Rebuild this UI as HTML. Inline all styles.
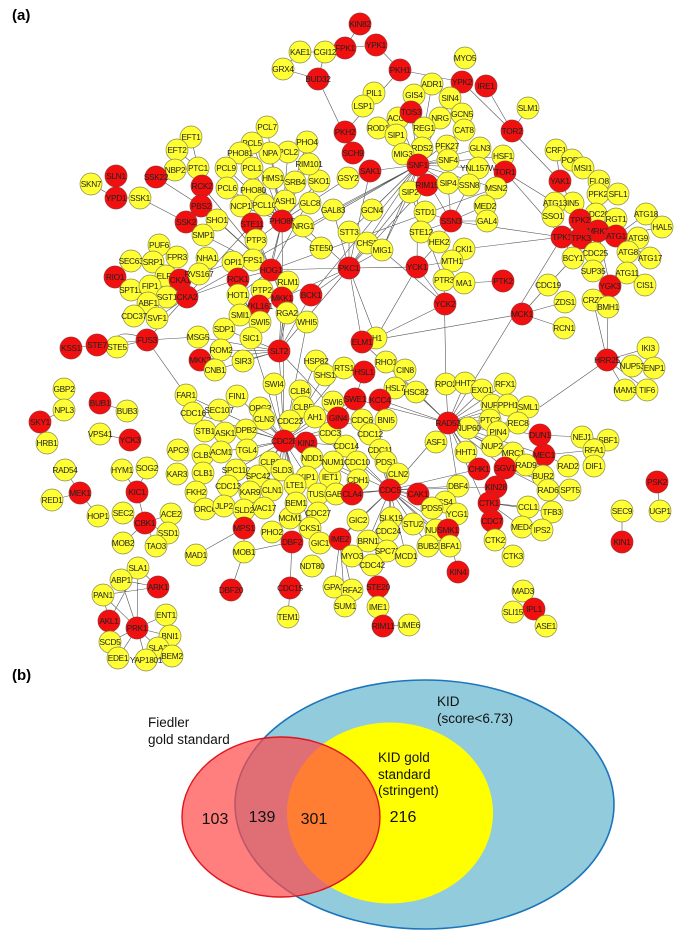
<!DOCTYPE html>
<html><head><meta charset="utf-8"><style>
html,body{margin:0;padding:0;background:#fff;width:685px;height:937px;overflow:hidden}
svg{display:block}
.y{fill:#ffff33;stroke:#8a8a50;stroke-width:.7}
.r{fill:#f20f0f;stroke:#a03030;stroke-width:.7}
text.n{font-family:"Liberation Sans",sans-serif;font-size:8.3px;fill:#222;text-anchor:middle;dominant-baseline:central;letter-spacing:-.3px}
.lab{font-family:"Liberation Sans",sans-serif;font-size:13.5px;fill:#111}
.num{font-family:"Liberation Sans",sans-serif;font-size:16px;fill:#111;text-anchor:middle}
</style></head><body>
<svg width="685" height="937" viewBox="0 0 685 937" xmlns="http://www.w3.org/2000/svg">
<text x="12" y="20" font-family="Liberation Sans,sans-serif" font-weight="bold" font-size="15">(a)</text>
<text x="12" y="680" font-family="Liberation Sans,sans-serif" font-weight="bold" font-size="15">(b)</text>
<g stroke="#555" stroke-width=".6" fill="none">
<path d="
M284 441L264 419M284 441L270 462M284 441L272 490M284 441L274 384M284 441L279 351M284 441L303 407M284 441L290 421M284 441L282 470M284 441L306 443M284 441L251 338M284 441L307 322M284 441L186 395M284 441L300 391M284 441L316 361M284 441L330 405M284 441L362 420M284 441L330 433M284 441L355 399M284 441L221 452M284 441L247 450M284 441L258 476M284 441L236 470M284 441L193 413M284 441L246 430M284 441L307 477M284 441L312 458M284 441L290 518M284 441L310 528M284 441L358 480M284 441L346 446M284 441L260 408M284 441L296 503M284 441L295 485M284 441L344 368M284 441L325 375M284 441L237 396M284 441L390 490M284 441L203 455M284 441L250 492M284 441L318 494M284 441L282 221
M279 351L349 268M279 351L311 295M279 351L282 298M279 351L288 282M279 351L198 337M279 351L224 329M279 351L221 350M279 351L200 360M279 351L287 313M279 351L243 361M279 351L215 370M279 351L330 405
M349 268L311 295M349 268L349 232M349 268L333 210M349 268L418 165M349 268L417 267M349 268L382 250M349 268L271 270M349 268L427 185M349 268L370 171M349 268L410 192M349 268L362 342M349 268L376 338M349 268L282 298M349 268L303 226
M418 165L370 171M418 165L411 112M418 165L333 210M418 165L396 135M418 165L410 192M418 165L448 183M418 165L448 160M418 165L382 250M418 165L372 210M418 165L398 118M418 165L424 128M418 165L403 154M418 165L422 148M418 165L464 130M418 165L503 156M418 165L480 148M418 165L432 84M418 165L440 118M418 165L496 188M418 165L417 267M418 165L349 232M418 165L300 230M418 165L478 168M418 165L451 221
M282 221L307 142M282 221L252 168M282 221L288 152M282 221L252 143M282 221L227 188M282 221L267 127M282 221L226 168M282 221L264 205M282 221L253 190M282 221L240 153M282 221L348 178M282 221L310 203M282 221L319 181M282 221L309 164M282 221L295 182M282 221L273 178M282 221L241 206M282 221L285 201M282 221L303 226M282 221L256 240M282 221L271 270M282 221L251 338M282 221L270 153M282 221L321 248
M271 270L201 206M271 270L319 181M271 270L238 295M271 270L262 290M271 270L256 240M271 270L203 235M271 270L238 279M271 270L202 186M271 270L288 282M271 270L253 260M271 270L282 298M271 270L252 224M271 270L217 220M271 270L496 188
M448 423L540 435M448 423L479 469M448 423L544 455M448 423L436 442M448 423L446 384M448 423L465 383M448 423L482 390M448 423L492 405M448 423L508 405M448 423L490 420M448 423L498 432M448 423L468 428M448 423L466 452M448 423L390 490M448 423L528 407M448 423L518 423M448 423L505 384M448 423L458 486M448 423L355 399M448 423L380 400M448 423L492 521M448 423L492 446M448 423L513 453M448 423L526 465M448 423L386 362M448 423L362 342M448 423L505 468
M390 490L352 494M390 490L418 494M390 490L346 446M390 490L391 518M390 490L413 524M390 490L386 462M390 490L398 474M390 490L450 546M390 490L428 546M390 490L388 531M390 490L368 541M390 490L387 551M390 490L406 556M390 490L458 486M390 490L436 530M390 490L358 520M390 490L496 487M390 490L340 539M390 490L380 450M390 490L370 434M390 490L357 462M390 490L432 508M390 490L445 502M390 490L479 469M390 490L336 494M390 490L448 530
M318 79L353 153M345 132L353 153M400 70L462 82M400 70L376 45M400 70L345 132M376 45L345 48M360 24L345 48M345 48L325 52M325 52L300 52M300 52L283 69M318 79L283 69M318 79L325 52M486 86L512 131M462 82L512 131M512 131L560 181M512 131L528 108M505 172L562 237M505 172L555 203M562 237L464 249M562 237L451 221M562 237L580 220M562 237L581 238M562 237L573 258M560 181L555 203M560 181L556 150M560 181L580 220M522 314L362 342M522 314L548 285M522 314L564 328M522 314L565 302M548 285L573 258M607 360L540 407M607 360L648 348M607 360L632 366M607 360L654 368M607 360L625 390M607 360L647 390M607 360L593 300M607 360L608 307M445 304L376 338M445 304L417 267M417 267L452 261M417 267L439 242M417 267L376 338M444 280L446 384M464 283L503 281M451 221L421 232M451 221L425 212M451 221L469 185M451 221L487 221M451 221L485 206M451 221L448 183M451 221L439 242M452 261L464 249M452 261L444 280M598 231L616 236M598 231L596 214M598 231L616 219M616 236L638 238M616 236L628 252M616 236L646 214M616 236L650 258M616 236L662 227M616 236L627 273M580 220L598 194M580 220L573 203M581 238L595 253M581 238L593 271M610 286L593 271M610 286L608 307M598 231L610 286
M147 340L97 345M97 345L71 348M97 345L117 347M147 340L117 347M147 340L198 337M147 340L186 395M147 340L252 224M147 340L97 345M117 347Q110 325 150 340
M40 422L64 410M64 410L64 389M40 422L47 443M100 403L127 411M100 434L130 440M80 493L65 470M80 493L52 500M80 493L98 516M137 492L122 470M137 492L147 468M137 492L145 523M145 523L123 513M145 523L171 514M145 523L168 533M145 523L156 546M145 523L123 543
M158 587L138 568M158 587L121 580M158 587L103 595M137 628L121 580M137 628L103 595M137 628L138 568M137 628L166 615M137 628L170 636M137 628L110 642M137 628L158 648M137 628L118 658M137 628L146 660M109 621L103 595M109 621L138 568M170 636L172 656M138 568L121 580
M534 609L523 591M534 609L513 612M534 609L546 626M622 542L622 511M657 482L660 511
M116 176L116 198M116 198L140 198M91 184L116 198M140 198L186 222M156 177L201 206M186 222L201 206M202 186L201 206M201 206L217 220M175 170L198 168M198 168L191 137M177 150L198 168M191 137L177 150
M180 280L187 297M180 280L166 276M187 297L167 297M187 297L157 318M180 280L207 258M187 297L238 279M166 276L155 262M166 276L150 286M115 277L131 290M150 286L167 297M148 303L134 316M187 297L253 260M180 280L199 274M199 274L233 262
M244 528L196 555M244 528L244 552M292 542L244 552M244 552L231 590M292 542L290 588M290 588L288 617M292 542L310 528M292 542L272 532
M362 342L376 338M364 372L386 362M364 372L355 399M380 400L395 388M380 400L416 392M380 400L386 420M355 399L338 418M338 418L362 420M540 435L582 437M540 435L544 455M544 455L568 466M544 455L594 450M582 437L608 440M594 450L594 466M505 468L543 476M505 468L548 490M505 468L570 490M496 487L489 503M489 503L528 507M489 503L552 512M489 503L522 527M489 503L495 540M495 540L513 556M448 530L458 572M448 530L450 546M340 539L334 587M340 539L352 590M340 539L345 606M340 539L352 556M372 565L378 587M378 587L378 607M383 626L409 625M340 539L358 520
M311 295L418 165M253 260L418 165M311 295L349 268M448 423L562 237M445 304L382 250M382 250L410 192M382 250L418 165M410 192L444 280
"/>
</g>
<g>
<circle class="r" cx="360" cy="24" r="11"/><text class="n" x="360" y="24">KIN82</text>
<circle class="r" cx="376" cy="45" r="11"/><text class="n" x="376" y="45">YPK1</text>
<circle class="r" cx="345" cy="48" r="11"/><text class="n" x="345" y="48">FPK1</text>
<circle class="y" cx="325" cy="52" r="11"/><text class="n" x="325" y="52">CGI12</text>
<circle class="y" cx="300" cy="52" r="11"/><text class="n" x="300" y="52">KAE1</text>
<circle class="y" cx="283" cy="69" r="11"/><text class="n" x="283" y="69">GRX4</text>
<circle class="r" cx="318" cy="79" r="11"/><text class="n" x="318" y="79">BUD32</text>
<circle class="r" cx="400" cy="70" r="11"/><text class="n" x="400" y="70">PKH1</text>
<circle class="y" cx="374" cy="93" r="11"/><text class="n" x="374" y="93">PIL1</text>
<circle class="y" cx="363" cy="106" r="11"/><text class="n" x="363" y="106">LSP1</text>
<circle class="y" cx="378" cy="128" r="11"/><text class="n" x="378" y="128">ROD1</text>
<circle class="r" cx="345" cy="132" r="11"/><text class="n" x="345" y="132">PKH2</text>
<circle class="r" cx="353" cy="153" r="11"/><text class="n" x="353" y="153">SCH9</text>
<circle class="r" cx="370" cy="171" r="11"/><text class="n" x="370" y="171">SAK1</text>
<circle class="y" cx="348" cy="178" r="11"/><text class="n" x="348" y="178">GSY2</text>
<circle class="y" cx="333" cy="210" r="11"/><text class="n" x="333" y="210">GAL83</text>
<circle class="y" cx="372" cy="210" r="11"/><text class="n" x="372" y="210">GCN4</text>
<circle class="y" cx="349" cy="232" r="11"/><text class="n" x="349" y="232">STT3</text>
<circle class="y" cx="367" cy="243" r="11"/><text class="n" x="367" y="243">CHS3</text>
<circle class="r" cx="349" cy="268" r="11"/><text class="n" x="349" y="268">PKC1</text>
<circle class="y" cx="321" cy="248" r="11"/><text class="n" x="321" y="248">STE50</text>
<circle class="y" cx="310" cy="203" r="11"/><text class="n" x="310" y="203">GLC8</text>
<circle class="y" cx="319" cy="181" r="11"/><text class="n" x="319" y="181">SKO1</text>
<circle class="y" cx="309" cy="164" r="11"/><text class="n" x="309" y="164">RIM101</text>
<circle class="y" cx="307" cy="142" r="11"/><text class="n" x="307" y="142">PHO4</text>
<circle class="y" cx="295" cy="182" r="11"/><text class="n" x="295" y="182">SRB4</text>
<circle class="y" cx="273" cy="178" r="11"/><text class="n" x="273" y="178">HMS1</text>
<circle class="y" cx="288" cy="152" r="11"/><text class="n" x="288" y="152">PCL2</text>
<circle class="y" cx="270" cy="153" r="11"/><text class="n" x="270" y="153">NPA</text>
<circle class="y" cx="267" cy="127" r="11"/><text class="n" x="267" y="127">PCL7</text>
<circle class="y" cx="252" cy="143" r="11"/><text class="n" x="252" y="143">PCL5</text>
<circle class="y" cx="240" cy="153" r="11"/><text class="n" x="240" y="153">PHO81</text>
<circle class="y" cx="226" cy="168" r="11"/><text class="n" x="226" y="168">PCL9</text>
<circle class="y" cx="252" cy="168" r="11"/><text class="n" x="252" y="168">PCL1</text>
<circle class="y" cx="227" cy="188" r="11"/><text class="n" x="227" y="188">PCL6</text>
<circle class="y" cx="253" cy="190" r="11"/><text class="n" x="253" y="190">PHO80</text>
<circle class="y" cx="241" cy="206" r="11"/><text class="n" x="241" y="206">NCP1</text>
<circle class="y" cx="264" cy="205" r="11"/><text class="n" x="264" y="205">PCL10</text>
<circle class="y" cx="285" cy="201" r="11"/><text class="n" x="285" y="201">ASH1</text>
<circle class="r" cx="282" cy="221" r="11"/><text class="n" x="282" y="221">PHO85</text>
<circle class="y" cx="303" cy="226" r="11"/><text class="n" x="303" y="226">NRG1</text>
<circle class="r" cx="252" cy="224" r="11"/><text class="n" x="252" y="224">STE11</text>
<circle class="y" cx="256" cy="240" r="11"/><text class="n" x="256" y="240">PTP3</text>
<circle class="y" cx="253" cy="260" r="11"/><text class="n" x="253" y="260">FPS1</text>
<circle class="y" cx="233" cy="262" r="11"/><text class="n" x="233" y="262">OPI1</text>
<circle class="r" cx="271" cy="270" r="11"/><text class="n" x="271" y="270">HOG1</text>
<circle class="r" cx="238" cy="279" r="11"/><text class="n" x="238" y="279">RCK1</text>
<circle class="y" cx="262" cy="290" r="11"/><text class="n" x="262" y="290">PTP2</text>
<circle class="y" cx="288" cy="282" r="11"/><text class="n" x="288" y="282">RLM1</text>
<circle class="r" cx="311" cy="295" r="11"/><text class="n" x="311" y="295">BCK1</text>
<circle class="r" cx="282" cy="298" r="11"/><text class="n" x="282" y="298">MKK1</text>
<circle class="y" cx="238" cy="295" r="11"/><text class="n" x="238" y="295">HOT1</text>
<circle class="r" cx="259" cy="306" r="11"/><text class="n" x="259" y="306">YKL161</text>
<circle class="y" cx="240" cy="315" r="11"/><text class="n" x="240" y="315">SMI1</text>
<circle class="y" cx="260" cy="322" r="11"/><text class="n" x="260" y="322">SWI5</text>
<circle class="y" cx="287" cy="313" r="11"/><text class="n" x="287" y="313">RGA2</text>
<circle class="y" cx="307" cy="322" r="11"/><text class="n" x="307" y="322">WHI5</text>
<circle class="y" cx="224" cy="329" r="11"/><text class="n" x="224" y="329">SDP1</text>
<circle class="y" cx="191" cy="137" r="11"/><text class="n" x="191" y="137">EFT1</text>
<circle class="y" cx="177" cy="150" r="11"/><text class="n" x="177" y="150">EFT2</text>
<circle class="y" cx="198" cy="168" r="11"/><text class="n" x="198" y="168">PTC1</text>
<circle class="y" cx="175" cy="170" r="11"/><text class="n" x="175" y="170">NBP2</text>
<circle class="r" cx="156" cy="177" r="11"/><text class="n" x="156" y="177">SSK22</text>
<circle class="r" cx="202" cy="186" r="11"/><text class="n" x="202" y="186">RCK2</text>
<circle class="r" cx="201" cy="206" r="11"/><text class="n" x="201" y="206">PBS2</text>
<circle class="r" cx="186" cy="222" r="11"/><text class="n" x="186" y="222">SSK2</text>
<circle class="y" cx="217" cy="220" r="11"/><text class="n" x="217" y="220">SHO1</text>
<circle class="y" cx="203" cy="235" r="11"/><text class="n" x="203" y="235">SMP1</text>
<circle class="y" cx="91" cy="184" r="11"/><text class="n" x="91" y="184">SKN7</text>
<circle class="r" cx="116" cy="176" r="11"/><text class="n" x="116" y="176">SLN1</text>
<circle class="r" cx="116" cy="198" r="11"/><text class="n" x="116" y="198">YPD1</text>
<circle class="y" cx="140" cy="198" r="11"/><text class="n" x="140" y="198">SSK1</text>
<circle class="y" cx="207" cy="258" r="11"/><text class="n" x="207" y="258">NHA1</text>
<circle class="y" cx="159" cy="245" r="11"/><text class="n" x="159" y="245">PUF6</text>
<circle class="y" cx="177" cy="257" r="11"/><text class="n" x="177" y="257">FPR3</text>
<circle class="y" cx="131" cy="261" r="11"/><text class="n" x="131" y="261">SEC63</text>
<circle class="y" cx="153" cy="262" r="11"/><text class="n" x="153" y="262">SRP1</text>
<circle class="y" cx="166" cy="276" r="11"/><text class="n" x="166" y="276">ELF1</text>
<circle class="r" cx="180" cy="280" r="11"/><text class="n" x="180" y="280">CKA1</text>
<circle class="y" cx="199" cy="274" r="11"/><text class="n" x="199" y="274">RVS167</text>
<circle class="r" cx="115" cy="277" r="11"/><text class="n" x="115" y="277">RIO1</text>
<circle class="y" cx="131" cy="290" r="11"/><text class="n" x="131" y="290">SPT15</text>
<circle class="y" cx="150" cy="286" r="11"/><text class="n" x="150" y="286">FIP1</text>
<circle class="y" cx="167" cy="297" r="11"/><text class="n" x="167" y="297">SGT1</text>
<circle class="r" cx="187" cy="297" r="11"/><text class="n" x="187" y="297">CKA2</text>
<circle class="y" cx="148" cy="303" r="11"/><text class="n" x="148" y="303">ABF1</text>
<circle class="y" cx="134" cy="316" r="11"/><text class="n" x="134" y="316">CDC37</text>
<circle class="y" cx="157" cy="318" r="11"/><text class="n" x="157" y="318">SVF1</text>
<circle class="r" cx="71" cy="348" r="11"/><text class="n" x="71" y="348">KSS1</text>
<circle class="y" cx="117" cy="347" r="11"/><text class="n" x="117" y="347">STE5</text>
<circle class="r" cx="97" cy="345" r="11"/><text class="n" x="97" y="345">STE7</text>
<circle class="r" cx="147" cy="340" r="11"/><text class="n" x="147" y="340">FUS3</text>
<circle class="y" cx="198" cy="337" r="11"/><text class="n" x="198" y="337">MSG5</text>
<circle class="r" cx="200" cy="360" r="11"/><text class="n" x="200" y="360">MKK2</text>
<circle class="y" cx="221" cy="350" r="11"/><text class="n" x="221" y="350">ROM2</text>
<circle class="y" cx="251" cy="338" r="11"/><text class="n" x="251" y="338">SIC1</text>
<circle class="y" cx="243" cy="361" r="11"/><text class="n" x="243" y="361">SIR3</text>
<circle class="y" cx="215" cy="370" r="11"/><text class="n" x="215" y="370">CNB1</text>
<circle class="r" cx="279" cy="351" r="11"/><text class="n" x="279" y="351">SLT2</text>
<circle class="y" cx="316" cy="361" r="11"/><text class="n" x="316" y="361">HSP82</text>
<circle class="y" cx="325" cy="375" r="11"/><text class="n" x="325" y="375">SHS1</text>
<circle class="y" cx="274" cy="384" r="11"/><text class="n" x="274" y="384">SWI4</text>
<circle class="y" cx="186" cy="395" r="11"/><text class="n" x="186" y="395">FAR1</text>
<circle class="y" cx="237" cy="396" r="11"/><text class="n" x="237" y="396">FIN1</text>
<circle class="y" cx="300" cy="391" r="11"/><text class="n" x="300" y="391">CLB4</text>
<circle class="y" cx="260" cy="408" r="11"/><text class="n" x="260" y="408">ORC2</text>
<circle class="y" cx="303" cy="407" r="11"/><text class="n" x="303" y="407">CLB5</text>
<circle class="y" cx="193" cy="413" r="11"/><text class="n" x="193" y="413">CDC16</text>
<circle class="y" cx="219" cy="410" r="11"/><text class="n" x="219" y="410">SEC107</text>
<circle class="y" cx="333" cy="402" r="11"/><text class="n" x="333" y="402">SWI6</text>
<circle class="y" cx="315" cy="417" r="11"/><text class="n" x="315" y="417">AH1</text>
<circle class="y" cx="290" cy="421" r="11"/><text class="n" x="290" y="421">CDC23</text>
<circle class="y" cx="264" cy="419" r="11"/><text class="n" x="264" y="419">CLN3</text>
<circle class="y" cx="205" cy="431" r="11"/><text class="n" x="205" y="431">STB1</text>
<circle class="y" cx="225" cy="433" r="11"/><text class="n" x="225" y="433">ASK1</text>
<circle class="y" cx="246" cy="430" r="11"/><text class="n" x="246" y="430">DPB2</text>
<circle class="y" cx="330" cy="433" r="11"/><text class="n" x="330" y="433">CDC3</text>
<circle class="r" cx="284" cy="441" r="11"/><text class="n" x="284" y="441">CDC28</text>
<circle class="r" cx="306" cy="443" r="11"/><text class="n" x="306" y="443">KIN2</text>
<circle class="y" cx="178" cy="450" r="11"/><text class="n" x="178" y="450">APC9</text>
<circle class="y" cx="203" cy="455" r="11"/><text class="n" x="203" y="455">CLB3</text>
<circle class="y" cx="221" cy="452" r="11"/><text class="n" x="221" y="452">ACM1</text>
<circle class="y" cx="247" cy="450" r="11"/><text class="n" x="247" y="450">TGL4</text>
<circle class="y" cx="312" cy="458" r="11"/><text class="n" x="312" y="458">NDD1</text>
<circle class="y" cx="270" cy="462" r="11"/><text class="n" x="270" y="462">CLB2</text>
<circle class="y" cx="236" cy="470" r="11"/><text class="n" x="236" y="470">SPC110</text>
<circle class="y" cx="282" cy="470" r="11"/><text class="n" x="282" y="470">SLD3</text>
<circle class="y" cx="258" cy="476" r="11"/><text class="n" x="258" y="476">SPC42</text>
<circle class="y" cx="177" cy="474" r="11"/><text class="n" x="177" y="474">KAR3</text>
<circle class="y" cx="203" cy="473" r="11"/><text class="n" x="203" y="473">CLB1</text>
<circle class="y" cx="307" cy="477" r="11"/><text class="n" x="307" y="477">KIP1</text>
<circle class="y" cx="330" cy="477" r="11"/><text class="n" x="330" y="477">IET1</text>
<circle class="y" cx="196" cy="492" r="11"/><text class="n" x="196" y="492">FKH2</text>
<circle class="y" cx="228" cy="486" r="11"/><text class="n" x="228" y="486">CDC13</text>
<circle class="y" cx="250" cy="492" r="11"/><text class="n" x="250" y="492">KAR9</text>
<circle class="y" cx="272" cy="490" r="11"/><text class="n" x="272" y="490">CLN1</text>
<circle class="y" cx="295" cy="485" r="11"/><text class="n" x="295" y="485">LTE1</text>
<circle class="y" cx="318" cy="494" r="11"/><text class="n" x="318" y="494">TUS1</text>
<circle class="y" cx="205" cy="509" r="11"/><text class="n" x="205" y="509">ORC6</text>
<circle class="y" cx="224" cy="506" r="11"/><text class="n" x="224" y="506">JLP2</text>
<circle class="y" cx="244" cy="510" r="11"/><text class="n" x="244" y="510">SLD2</text>
<circle class="y" cx="264" cy="508" r="11"/><text class="n" x="264" y="508">VAC17</text>
<circle class="y" cx="290" cy="518" r="11"/><text class="n" x="290" y="518">MCM1</text>
<circle class="y" cx="296" cy="503" r="11"/><text class="n" x="296" y="503">BEM1</text>
<circle class="y" cx="318" cy="513" r="11"/><text class="n" x="318" y="513">CDC27</text>
<circle class="y" cx="310" cy="528" r="11"/><text class="n" x="310" y="528">CKS1</text>
<circle class="r" cx="244" cy="528" r="11"/><text class="n" x="244" y="528">MPS1</text>
<circle class="y" cx="272" cy="532" r="11"/><text class="n" x="272" y="532">PHO2</text>
<circle class="r" cx="292" cy="542" r="11"/><text class="n" x="292" y="542">DBF2</text>
<circle class="y" cx="320" cy="543" r="11"/><text class="n" x="320" y="543">GIC1</text>
<circle class="y" cx="244" cy="552" r="11"/><text class="n" x="244" y="552">MOB1</text>
<circle class="y" cx="196" cy="555" r="11"/><text class="n" x="196" y="555">MAD1</text>
<circle class="y" cx="312" cy="566" r="11"/><text class="n" x="312" y="566">NDT80</text>
<circle class="r" cx="231" cy="590" r="11"/><text class="n" x="231" y="590">DBF20</text>
<circle class="r" cx="290" cy="588" r="11"/><text class="n" x="290" y="588">CDC15</text>
<circle class="y" cx="288" cy="617" r="11"/><text class="n" x="288" y="617">TEM1</text>
<circle class="y" cx="64" cy="389" r="11"/><text class="n" x="64" y="389">GBP2</text>
<circle class="y" cx="64" cy="410" r="11"/><text class="n" x="64" y="410">NPL3</text>
<circle class="r" cx="40" cy="422" r="11"/><text class="n" x="40" y="422">SKY1</text>
<circle class="y" cx="47" cy="443" r="11"/><text class="n" x="47" y="443">HRB1</text>
<circle class="r" cx="100" cy="403" r="11"/><text class="n" x="100" y="403">BUB1</text>
<circle class="y" cx="127" cy="411" r="11"/><text class="n" x="127" y="411">BUB3</text>
<circle class="y" cx="100" cy="434" r="11"/><text class="n" x="100" y="434">VPS41</text>
<circle class="r" cx="130" cy="440" r="11"/><text class="n" x="130" y="440">YCK3</text>
<circle class="y" cx="65" cy="470" r="11"/><text class="n" x="65" y="470">RAD54</text>
<circle class="r" cx="80" cy="493" r="11"/><text class="n" x="80" y="493">MEK1</text>
<circle class="y" cx="52" cy="500" r="11"/><text class="n" x="52" y="500">RED1</text>
<circle class="y" cx="98" cy="516" r="11"/><text class="n" x="98" y="516">HOP1</text>
<circle class="y" cx="122" cy="470" r="11"/><text class="n" x="122" y="470">HYM1</text>
<circle class="y" cx="147" cy="468" r="11"/><text class="n" x="147" y="468">SOG2</text>
<circle class="r" cx="137" cy="492" r="11"/><text class="n" x="137" y="492">KIC1</text>
<circle class="y" cx="123" cy="513" r="11"/><text class="n" x="123" y="513">SEC2</text>
<circle class="r" cx="145" cy="523" r="11"/><text class="n" x="145" y="523">CBK1</text>
<circle class="y" cx="171" cy="514" r="11"/><text class="n" x="171" y="514">ACE2</text>
<circle class="y" cx="168" cy="533" r="11"/><text class="n" x="168" y="533">SSD1</text>
<circle class="y" cx="123" cy="543" r="11"/><text class="n" x="123" y="543">MOB2</text>
<circle class="y" cx="156" cy="546" r="11"/><text class="n" x="156" y="546">TAO3</text>
<circle class="y" cx="138" cy="568" r="11"/><text class="n" x="138" y="568">SLA1</text>
<circle class="y" cx="121" cy="580" r="11"/><text class="n" x="121" y="580">ABP1</text>
<circle class="r" cx="158" cy="587" r="11"/><text class="n" x="158" y="587">ARK1</text>
<circle class="y" cx="103" cy="595" r="11"/><text class="n" x="103" y="595">PAN1</text>
<circle class="r" cx="109" cy="621" r="11"/><text class="n" x="109" y="621">AKL1</text>
<circle class="r" cx="137" cy="628" r="11"/><text class="n" x="137" y="628">PRK1</text>
<circle class="y" cx="166" cy="615" r="11"/><text class="n" x="166" y="615">ENT1</text>
<circle class="y" cx="170" cy="636" r="11"/><text class="n" x="170" y="636">BNI1</text>
<circle class="y" cx="110" cy="642" r="11"/><text class="n" x="110" y="642">SCD5</text>
<circle class="y" cx="158" cy="648" r="11"/><text class="n" x="158" y="648">SLA2</text>
<circle class="y" cx="118" cy="658" r="11"/><text class="n" x="118" y="658">EDE1</text>
<circle class="y" cx="146" cy="660" r="11"/><text class="n" x="146" y="660">YAP1801</text>
<circle class="y" cx="172" cy="656" r="11"/><text class="n" x="172" y="656">BEM2</text>
<circle class="y" cx="465" cy="58" r="11"/><text class="n" x="465" y="58">MYO5</text>
<circle class="y" cx="432" cy="84" r="11"/><text class="n" x="432" y="84">ADR1</text>
<circle class="r" cx="462" cy="82" r="11"/><text class="n" x="462" y="82">YPK2</text>
<circle class="r" cx="486" cy="86" r="11"/><text class="n" x="486" y="86">IRE1</text>
<circle class="y" cx="414" cy="95" r="11"/><text class="n" x="414" y="95">GIS4</text>
<circle class="y" cx="450" cy="98" r="11"/><text class="n" x="450" y="98">SIN4</text>
<circle class="y" cx="398" cy="118" r="11"/><text class="n" x="398" y="118">ACC1</text>
<circle class="r" cx="411" cy="112" r="11"/><text class="n" x="411" y="112">TOS3</text>
<circle class="y" cx="440" cy="118" r="11"/><text class="n" x="440" y="118">NRG</text>
<circle class="y" cx="462" cy="114" r="11"/><text class="n" x="462" y="114">GCN5</text>
<circle class="y" cx="424" cy="128" r="11"/><text class="n" x="424" y="128">REG1</text>
<circle class="y" cx="464" cy="130" r="11"/><text class="n" x="464" y="130">CAT8</text>
<circle class="y" cx="396" cy="135" r="11"/><text class="n" x="396" y="135">SIP1</text>
<circle class="y" cx="528" cy="108" r="11"/><text class="n" x="528" y="108">SLM1</text>
<circle class="r" cx="512" cy="131" r="11"/><text class="n" x="512" y="131">TOR2</text>
<circle class="y" cx="422" cy="148" r="11"/><text class="n" x="422" y="148">RDS2</text>
<circle class="y" cx="447" cy="146" r="11"/><text class="n" x="447" y="146">PFK27</text>
<circle class="y" cx="480" cy="148" r="11"/><text class="n" x="480" y="148">GLN3</text>
<circle class="y" cx="403" cy="154" r="11"/><text class="n" x="403" y="154">MIG3</text>
<circle class="y" cx="448" cy="160" r="11"/><text class="n" x="448" y="160">SNF4</text>
<circle class="r" cx="418" cy="165" r="11"/><text class="n" x="418" y="165">SNF1</text>
<circle class="y" cx="503" cy="156" r="11"/><text class="n" x="503" y="156">HSF1</text>
<circle class="y" cx="478" cy="168" r="11"/><text class="n" x="478" y="168">YNL157W</text>
<circle class="r" cx="505" cy="172" r="11"/><text class="n" x="505" y="172">TOR1</text>
<circle class="y" cx="410" cy="192" r="11"/><text class="n" x="410" y="192">SIP2</text>
<circle class="r" cx="427" cy="185" r="11"/><text class="n" x="427" y="185">RIM15</text>
<circle class="y" cx="448" cy="183" r="11"/><text class="n" x="448" y="183">SIP4</text>
<circle class="y" cx="469" cy="185" r="11"/><text class="n" x="469" y="185">SSN8</text>
<circle class="y" cx="496" cy="188" r="11"/><text class="n" x="496" y="188">MSN2</text>
<circle class="y" cx="485" cy="206" r="11"/><text class="n" x="485" y="206">MED2</text>
<circle class="y" cx="425" cy="212" r="11"/><text class="n" x="425" y="212">STD1</text>
<circle class="r" cx="451" cy="221" r="11"/><text class="n" x="451" y="221">SSN3</text>
<circle class="y" cx="487" cy="221" r="11"/><text class="n" x="487" y="221">GAL4</text>
<circle class="y" cx="421" cy="232" r="11"/><text class="n" x="421" y="232">STE12</text>
<circle class="y" cx="439" cy="242" r="11"/><text class="n" x="439" y="242">HEK2</text>
<circle class="y" cx="464" cy="249" r="11"/><text class="n" x="464" y="249">CKI1</text>
<circle class="y" cx="452" cy="261" r="11"/><text class="n" x="452" y="261">MTH1</text>
<circle class="y" cx="382" cy="250" r="11"/><text class="n" x="382" y="250">MIG1</text>
<circle class="r" cx="417" cy="267" r="11"/><text class="n" x="417" y="267">YCK1</text>
<circle class="y" cx="444" cy="280" r="11"/><text class="n" x="444" y="280">PTR3</text>
<circle class="y" cx="464" cy="283" r="11"/><text class="n" x="464" y="283">MA1</text>
<circle class="r" cx="503" cy="281" r="11"/><text class="n" x="503" y="281">PTK2</text>
<circle class="r" cx="445" cy="304" r="11"/><text class="n" x="445" y="304">YCK2</text>
<circle class="y" cx="556" cy="150" r="11"/><text class="n" x="556" y="150">CRF1</text>
<circle class="y" cx="572" cy="160" r="11"/><text class="n" x="572" y="160">POP2</text>
<circle class="y" cx="583" cy="168" r="11"/><text class="n" x="583" y="168">MSI1</text>
<circle class="y" cx="599" cy="181" r="11"/><text class="n" x="599" y="181">FLO8</text>
<circle class="r" cx="560" cy="181" r="11"/><text class="n" x="560" y="181">YAK1</text>
<circle class="y" cx="598" cy="194" r="11"/><text class="n" x="598" y="194">PFK2</text>
<circle class="y" cx="618" cy="194" r="11"/><text class="n" x="618" y="194">SFL1</text>
<circle class="y" cx="573" cy="203" r="11"/><text class="n" x="573" y="203">IN5</text>
<circle class="y" cx="555" cy="203" r="11"/><text class="n" x="555" y="203">ATG13</text>
<circle class="y" cx="553" cy="216" r="11"/><text class="n" x="553" y="216">SSO1</text>
<circle class="y" cx="646" cy="214" r="11"/><text class="n" x="646" y="214">ATG18</text>
<circle class="y" cx="662" cy="227" r="11"/><text class="n" x="662" y="227">HAL5</text>
<circle class="y" cx="596" cy="214" r="11"/><text class="n" x="596" y="214">CDC20</text>
<circle class="r" cx="580" cy="220" r="11"/><text class="n" x="580" y="220">TPK2</text>
<circle class="y" cx="616" cy="219" r="11"/><text class="n" x="616" y="219">RGT1</text>
<circle class="r" cx="598" cy="231" r="11"/><text class="n" x="598" y="231">MRK1</text>
<circle class="y" cx="638" cy="238" r="11"/><text class="n" x="638" y="238">ATG9</text>
<circle class="r" cx="616" cy="236" r="11"/><text class="n" x="616" y="236">ATG1</text>
<circle class="r" cx="562" cy="237" r="11"/><text class="n" x="562" y="237">TPK1</text>
<circle class="r" cx="581" cy="238" r="11"/><text class="n" x="581" y="238">TPK3</text>
<circle class="y" cx="595" cy="253" r="11"/><text class="n" x="595" y="253">CDC25</text>
<circle class="y" cx="628" cy="252" r="11"/><text class="n" x="628" y="252">ATG8</text>
<circle class="y" cx="650" cy="258" r="11"/><text class="n" x="650" y="258">ATG17</text>
<circle class="y" cx="573" cy="258" r="11"/><text class="n" x="573" y="258">BCY1</text>
<circle class="y" cx="593" cy="271" r="11"/><text class="n" x="593" y="271">SUP35</text>
<circle class="y" cx="627" cy="273" r="11"/><text class="n" x="627" y="273">ATG11</text>
<circle class="y" cx="645" cy="285" r="11"/><text class="n" x="645" y="285">CIS1</text>
<circle class="r" cx="610" cy="286" r="11"/><text class="n" x="610" y="286">YGK3</text>
<circle class="y" cx="548" cy="285" r="11"/><text class="n" x="548" y="285">CDC19</text>
<circle class="y" cx="565" cy="302" r="11"/><text class="n" x="565" y="302">ZDS1</text>
<circle class="y" cx="593" cy="300" r="11"/><text class="n" x="593" y="300">CRZ1</text>
<circle class="y" cx="608" cy="307" r="11"/><text class="n" x="608" y="307">BMH1</text>
<circle class="r" cx="522" cy="314" r="11"/><text class="n" x="522" y="314">MCK1</text>
<circle class="y" cx="564" cy="328" r="11"/><text class="n" x="564" y="328">RCN1</text>
<circle class="y" cx="376" cy="338" r="11"/><text class="n" x="376" y="338">IH1</text>
<circle class="r" cx="362" cy="342" r="11"/><text class="n" x="362" y="342">ELM1</text>
<circle class="y" cx="344" cy="368" r="11"/><text class="n" x="344" y="368">RTS1</text>
<circle class="y" cx="386" cy="362" r="11"/><text class="n" x="386" y="362">RHO1</text>
<circle class="r" cx="364" cy="372" r="11"/><text class="n" x="364" y="372">HSL1</text>
<circle class="y" cx="405" cy="370" r="11"/><text class="n" x="405" y="370">CIN8</text>
<circle class="y" cx="395" cy="388" r="11"/><text class="n" x="395" y="388">HSL7</text>
<circle class="y" cx="416" cy="392" r="11"/><text class="n" x="416" y="392">HSC82</text>
<circle class="y" cx="446" cy="384" r="11"/><text class="n" x="446" y="384">RPO2</text>
<circle class="y" cx="465" cy="383" r="11"/><text class="n" x="465" y="383">HHT2</text>
<circle class="y" cx="482" cy="390" r="11"/><text class="n" x="482" y="390">EXO1</text>
<circle class="y" cx="505" cy="384" r="11"/><text class="n" x="505" y="384">RFX1</text>
<circle class="y" cx="492" cy="405" r="11"/><text class="n" x="492" y="405">NUP1</text>
<circle class="y" cx="508" cy="405" r="11"/><text class="n" x="508" y="405">PPH1</text>
<circle class="y" cx="528" cy="407" r="11"/><text class="n" x="528" y="407">SML1</text>
<circle class="r" cx="355" cy="399" r="11"/><text class="n" x="355" y="399">SWE1</text>
<circle class="r" cx="380" cy="400" r="11"/><text class="n" x="380" y="400">KCC4</text>
<circle class="r" cx="338" cy="418" r="11"/><text class="n" x="338" y="418">GIN4</text>
<circle class="y" cx="362" cy="420" r="11"/><text class="n" x="362" y="420">CDC6</text>
<circle class="y" cx="386" cy="420" r="11"/><text class="n" x="386" y="420">BNI5</text>
<circle class="y" cx="490" cy="420" r="11"/><text class="n" x="490" y="420">PTC2</text>
<circle class="y" cx="468" cy="428" r="11"/><text class="n" x="468" y="428">NUP60</text>
<circle class="r" cx="448" cy="423" r="11"/><text class="n" x="448" y="423">RAD53</text>
<circle class="y" cx="518" cy="423" r="11"/><text class="n" x="518" y="423">REC8</text>
<circle class="y" cx="498" cy="432" r="11"/><text class="n" x="498" y="432">PIN4</text>
<circle class="y" cx="370" cy="434" r="11"/><text class="n" x="370" y="434">CDC12</text>
<circle class="y" cx="582" cy="437" r="11"/><text class="n" x="582" y="437">NEJ1</text>
<circle class="y" cx="608" cy="440" r="11"/><text class="n" x="608" y="440">SBF1</text>
<circle class="y" cx="594" cy="450" r="11"/><text class="n" x="594" y="450">RFA1</text>
<circle class="r" cx="540" cy="435" r="11"/><text class="n" x="540" y="435">DUN1</text>
<circle class="y" cx="346" cy="446" r="11"/><text class="n" x="346" y="446">CDC14</text>
<circle class="y" cx="380" cy="450" r="11"/><text class="n" x="380" y="450">CDC11</text>
<circle class="y" cx="436" cy="442" r="11"/><text class="n" x="436" y="442">ASF1</text>
<circle class="y" cx="492" cy="446" r="11"/><text class="n" x="492" y="446">NUP2</text>
<circle class="y" cx="466" cy="452" r="11"/><text class="n" x="466" y="452">HHT1</text>
<circle class="y" cx="513" cy="453" r="11"/><text class="n" x="513" y="453">MRC1</text>
<circle class="r" cx="544" cy="455" r="11"/><text class="n" x="544" y="455">MEC1</text>
<circle class="y" cx="333" cy="462" r="11"/><text class="n" x="333" y="462">NUM1</text>
<circle class="y" cx="357" cy="462" r="11"/><text class="n" x="357" y="462">CDC10</text>
<circle class="y" cx="386" cy="462" r="11"/><text class="n" x="386" y="462">PDS1</text>
<circle class="y" cx="398" cy="474" r="11"/><text class="n" x="398" y="474">CLN2</text>
<circle class="y" cx="526" cy="465" r="11"/><text class="n" x="526" y="465">RAD9</text>
<circle class="y" cx="568" cy="466" r="11"/><text class="n" x="568" y="466">RAD2</text>
<circle class="y" cx="594" cy="466" r="11"/><text class="n" x="594" y="466">DIF1</text>
<circle class="r" cx="479" cy="469" r="11"/><text class="n" x="479" y="469">CHK1</text>
<circle class="r" cx="505" cy="468" r="11"/><text class="n" x="505" y="468">SGV1</text>
<circle class="y" cx="543" cy="476" r="11"/><text class="n" x="543" y="476">BUR2</text>
<circle class="y" cx="358" cy="480" r="11"/><text class="n" x="358" y="480">CDH1</text>
<circle class="y" cx="336" cy="494" r="11"/><text class="n" x="336" y="494">GAB1</text>
<circle class="r" cx="352" cy="494" r="11"/><text class="n" x="352" y="494">CLA4</text>
<circle class="r" cx="390" cy="490" r="11"/><text class="n" x="390" y="490">CDC5</text>
<circle class="r" cx="418" cy="494" r="11"/><text class="n" x="418" y="494">CAK1</text>
<circle class="y" cx="458" cy="486" r="11"/><text class="n" x="458" y="486">DBF4</text>
<circle class="r" cx="496" cy="487" r="11"/><text class="n" x="496" y="487">KIN28</text>
<circle class="y" cx="548" cy="490" r="11"/><text class="n" x="548" y="490">RAD6</text>
<circle class="y" cx="570" cy="490" r="11"/><text class="n" x="570" y="490">SPT5</text>
<circle class="y" cx="445" cy="502" r="11"/><text class="n" x="445" y="502">CS4</text>
<circle class="r" cx="489" cy="503" r="11"/><text class="n" x="489" y="503">CTK1</text>
<circle class="y" cx="432" cy="508" r="11"/><text class="n" x="432" y="508">PDS5</text>
<circle class="y" cx="457" cy="514" r="11"/><text class="n" x="457" y="514">YCG1</text>
<circle class="y" cx="528" cy="507" r="11"/><text class="n" x="528" y="507">CCL1</text>
<circle class="y" cx="552" cy="512" r="11"/><text class="n" x="552" y="512">TFB3</text>
<circle class="r" cx="492" cy="521" r="11"/><text class="n" x="492" y="521">CDC7</text>
<circle class="y" cx="358" cy="520" r="11"/><text class="n" x="358" y="520">GIC2</text>
<circle class="y" cx="391" cy="518" r="11"/><text class="n" x="391" y="518">SLK19</text>
<circle class="y" cx="413" cy="524" r="11"/><text class="n" x="413" y="524">STU2</text>
<circle class="y" cx="436" cy="530" r="11"/><text class="n" x="436" y="530">NUD1</text>
<circle class="r" cx="448" cy="530" r="11"/><text class="n" x="448" y="530">SMK1</text>
<circle class="y" cx="522" cy="527" r="11"/><text class="n" x="522" y="527">MED4</text>
<circle class="y" cx="542" cy="530" r="11"/><text class="n" x="542" y="530">IPS2</text>
<circle class="y" cx="388" cy="531" r="11"/><text class="n" x="388" y="531">CDC24</text>
<circle class="r" cx="340" cy="539" r="11"/><text class="n" x="340" y="539">IME2</text>
<circle class="y" cx="368" cy="541" r="11"/><text class="n" x="368" y="541">BRN1</text>
<circle class="y" cx="428" cy="546" r="11"/><text class="n" x="428" y="546">BUB2</text>
<circle class="y" cx="450" cy="546" r="11"/><text class="n" x="450" y="546">BFA1</text>
<circle class="y" cx="495" cy="540" r="11"/><text class="n" x="495" y="540">CTK2</text>
<circle class="y" cx="387" cy="551" r="11"/><text class="n" x="387" y="551">SPC72</text>
<circle class="y" cx="352" cy="556" r="11"/><text class="n" x="352" y="556">MYO3</text>
<circle class="y" cx="406" cy="556" r="11"/><text class="n" x="406" y="556">MCD1</text>
<circle class="y" cx="372" cy="565" r="11"/><text class="n" x="372" y="565">CDC42</text>
<circle class="y" cx="513" cy="556" r="11"/><text class="n" x="513" y="556">CTK3</text>
<circle class="r" cx="458" cy="572" r="11"/><text class="n" x="458" y="572">KIN4</text>
<circle class="y" cx="334" cy="587" r="11"/><text class="n" x="334" y="587">GPA2</text>
<circle class="y" cx="352" cy="590" r="11"/><text class="n" x="352" y="590">RFA2</text>
<circle class="r" cx="378" cy="587" r="11"/><text class="n" x="378" y="587">STE20</text>
<circle class="y" cx="345" cy="606" r="11"/><text class="n" x="345" y="606">SUM1</text>
<circle class="y" cx="378" cy="607" r="11"/><text class="n" x="378" y="607">IME1</text>
<circle class="r" cx="383" cy="626" r="11"/><text class="n" x="383" y="626">RIM11</text>
<circle class="y" cx="409" cy="625" r="11"/><text class="n" x="409" y="625">UME6</text>
<circle class="y" cx="523" cy="591" r="11"/><text class="n" x="523" y="591">MAD3</text>
<circle class="y" cx="513" cy="612" r="11"/><text class="n" x="513" y="612">SLI15</text>
<circle class="r" cx="534" cy="609" r="11"/><text class="n" x="534" y="609">IPL1</text>
<circle class="y" cx="546" cy="626" r="11"/><text class="n" x="546" y="626">ASE1</text>
<circle class="y" cx="648" cy="348" r="11"/><text class="n" x="648" y="348">IKI3</text>
<circle class="r" cx="607" cy="360" r="11"/><text class="n" x="607" y="360">HRR25</text>
<circle class="y" cx="632" cy="366" r="11"/><text class="n" x="632" y="366">NUP53</text>
<circle class="y" cx="654" cy="368" r="11"/><text class="n" x="654" y="368">ENP1</text>
<circle class="y" cx="625" cy="390" r="11"/><text class="n" x="625" y="390">MAM3</text>
<circle class="y" cx="647" cy="390" r="11"/><text class="n" x="647" y="390">TIF6</text>
<circle class="r" cx="657" cy="482" r="11"/><text class="n" x="657" y="482">PSK2</text>
<circle class="y" cx="622" cy="511" r="11"/><text class="n" x="622" y="511">SEC9</text>
<circle class="y" cx="660" cy="511" r="11"/><text class="n" x="660" y="511">UGP1</text>
<circle class="r" cx="622" cy="542" r="11"/><text class="n" x="622" y="542">KIN1</text>
</g>
<ellipse cx="424.5" cy="804.5" rx="189.5" ry="124.5" fill="#92cbdc" stroke="#1b75bb" stroke-width="1.6"/>
<ellipse cx="390" cy="813" rx="103" ry="90.5" fill="#ffff00"/>
<ellipse cx="281" cy="817" rx="99" ry="80" fill="rgb(255,73,73)" fill-opacity="0.71" stroke="#e0141e" stroke-width="1.4"/>
<text class="lab" x="437" y="706">KID</text>
<text class="lab" x="437" y="723">(score&lt;6.73)</text>
<text class="lab" x="148" y="727">Fiedler</text>
<text class="lab" x="148" y="744">gold standard</text>
<text class="lab" x="378" y="762">KID gold</text>
<text class="lab" x="378" y="779">standard</text>
<text class="lab" x="378" y="795">(stringent)</text>
<text class="num" x="215" y="824">103</text>
<text class="num" x="262" y="822">139</text>
<text class="num" x="314" y="824">301</text>
<text class="num" x="403" y="822">216</text>
</svg>
</body></html>
